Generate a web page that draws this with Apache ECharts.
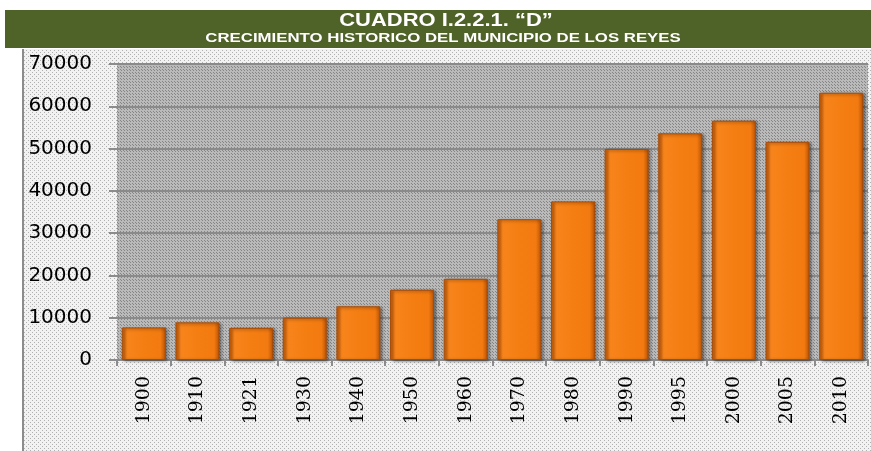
<!DOCTYPE html>
<html>
<head>
<meta charset="utf-8">
<script src="https://cdn.jsdelivr.net/npm/echarts@6/dist/echarts.min.js"></script>
<style>
  html, body { margin: 0; padding: 0; background: #fff; }
  #chart { width: 871px; height: 451px; }
</style>
</head>
<body>
<div id="chart"></div>
<script>
// años del censo
var years = ['1900', '1910', '1921', '1930', '1940', '1950', '1960', '1970', '1980', '1990', '1995', '2000', '2005', '2010'];
// poblacion
var poblacion = [7700, 8900, 7600, 10000, 12700, 16600, 19200, 33300, 37500, 49900, 53600, 56600, 51600, 63200];
var titulo = 'CUADRO I.2.2.1. \u201cD\u201d';
var subtitulo = 'CRECIMIENTO HISTORICO DEL MUNICIPIO DE LOS REYES';

// fondo punteado tipo excel
function makePattern(base, dot, step) {
  var c = document.createElement('canvas');
  c.width = step; c.height = step;
  var ctx = c.getContext('2d');
  ctx.fillStyle = base;
  ctx.fillRect(0, 0, step, step);
  ctx.fillStyle = dot;
  ctx.fillRect(0, 0, 1, 1);
  ctx.fillRect(Math.floor(step / 2), Math.floor(step / 2), 1, 1);
  return { image: c, repeat: 'repeat' };
}

var chart = echarts.init(document.getElementById('chart'));
chart.setOption({
  animation: false,
  backgroundColor: '#ffffff',
  graphic: [
    {
      type: 'rect', z: -10,
      shape: { x: 22, y: 49, width: 849, height: 402 },
      style: { fill: makePattern('#f2f2f2', '#b0b0b0', 4) }
    },
    {
      type: 'line', z: -5,
      shape: { x1: 23, y1: 49, x2: 23, y2: 451 },
      style: { stroke: '#8c8c8c', lineWidth: 2 }
    },
    {
      type: 'rect', z: 5,
      shape: { x: 5, y: 10, width: 866, height: 38 },
      style: { fill: '#4f6228' }
    },
    {
      type: 'text', z: 6, x: 446, y: 12, scaleX: 1.22,
      style: {
        text: titulo, fill: '#fff', textAlign: 'center', textVerticalAlign: 'top',
        font: 'bold 18px "Liberation Sans", Arial, sans-serif'
      }
    },
    {
      type: 'text', z: 6, x: 443, y: 33, scaleX: 1.4,
      style: {
        text: subtitulo, fill: '#fff', textAlign: 'center', textVerticalAlign: 'top',
        font: 'bold 12px "Liberation Sans", Arial, sans-serif'
      }
    }
  ],
  grid: {
    left: 117, right: 3, top: 64, bottom: 91,
    show: true,
    backgroundColor: makePattern('#bababa', '#858585', 3),
    borderWidth: 0
  },
  xAxis: {
    type: 'category',
    data: years,
    axisLine: { lineStyle: { color: '#8c8c8c', width: 2 } },
    axisTick: { show: true, length: 6, lineStyle: { color: '#8c8c8c', width: 2 } },
    axisLabel: {
      rotate: 90, margin: 16, color: '#000',
      fontFamily: '"DejaVu Serif", serif', fontSize: 19
    }
  },
  yAxis: {
    type: 'value',
    min: 0, max: 70000, interval: 10000,
    axisLine: { show: false },
    axisTick: { show: true, length: 8, lineStyle: { color: '#8c8c8c', width: 2 } },
    splitLine: { lineStyle: { color: '#8a8a8a', width: 2 } },
    axisLabel: {
      margin: 25, color: '#000',
      fontFamily: '"DejaVu Sans", sans-serif', fontSize: 20,
      formatter: function (v) { return String(v); }
    }
  },
  series: [{
    type: 'bar',
    data: poblacion,
    barCategoryGap: '18%',
    itemStyle: {
      color: new echarts.graphic.LinearGradient(0, 0, 1, 0, [
        { offset: 0, color: '#c45a08' },
        { offset: 0.12, color: '#f7841c' },
        { offset: 0.5, color: '#f57e12' },
        { offset: 0.88, color: '#f27a10' },
        { offset: 1, color: '#b85206' }
      ]),
      borderColor: '#a84c08',
      borderWidth: 1,
      shadowColor: 'rgba(0,0,0,0.45)',
      shadowBlur: 3,
      shadowOffsetX: 2,
      shadowOffsetY: 1
    }
  }]
});
</script>
</body>
</html>
